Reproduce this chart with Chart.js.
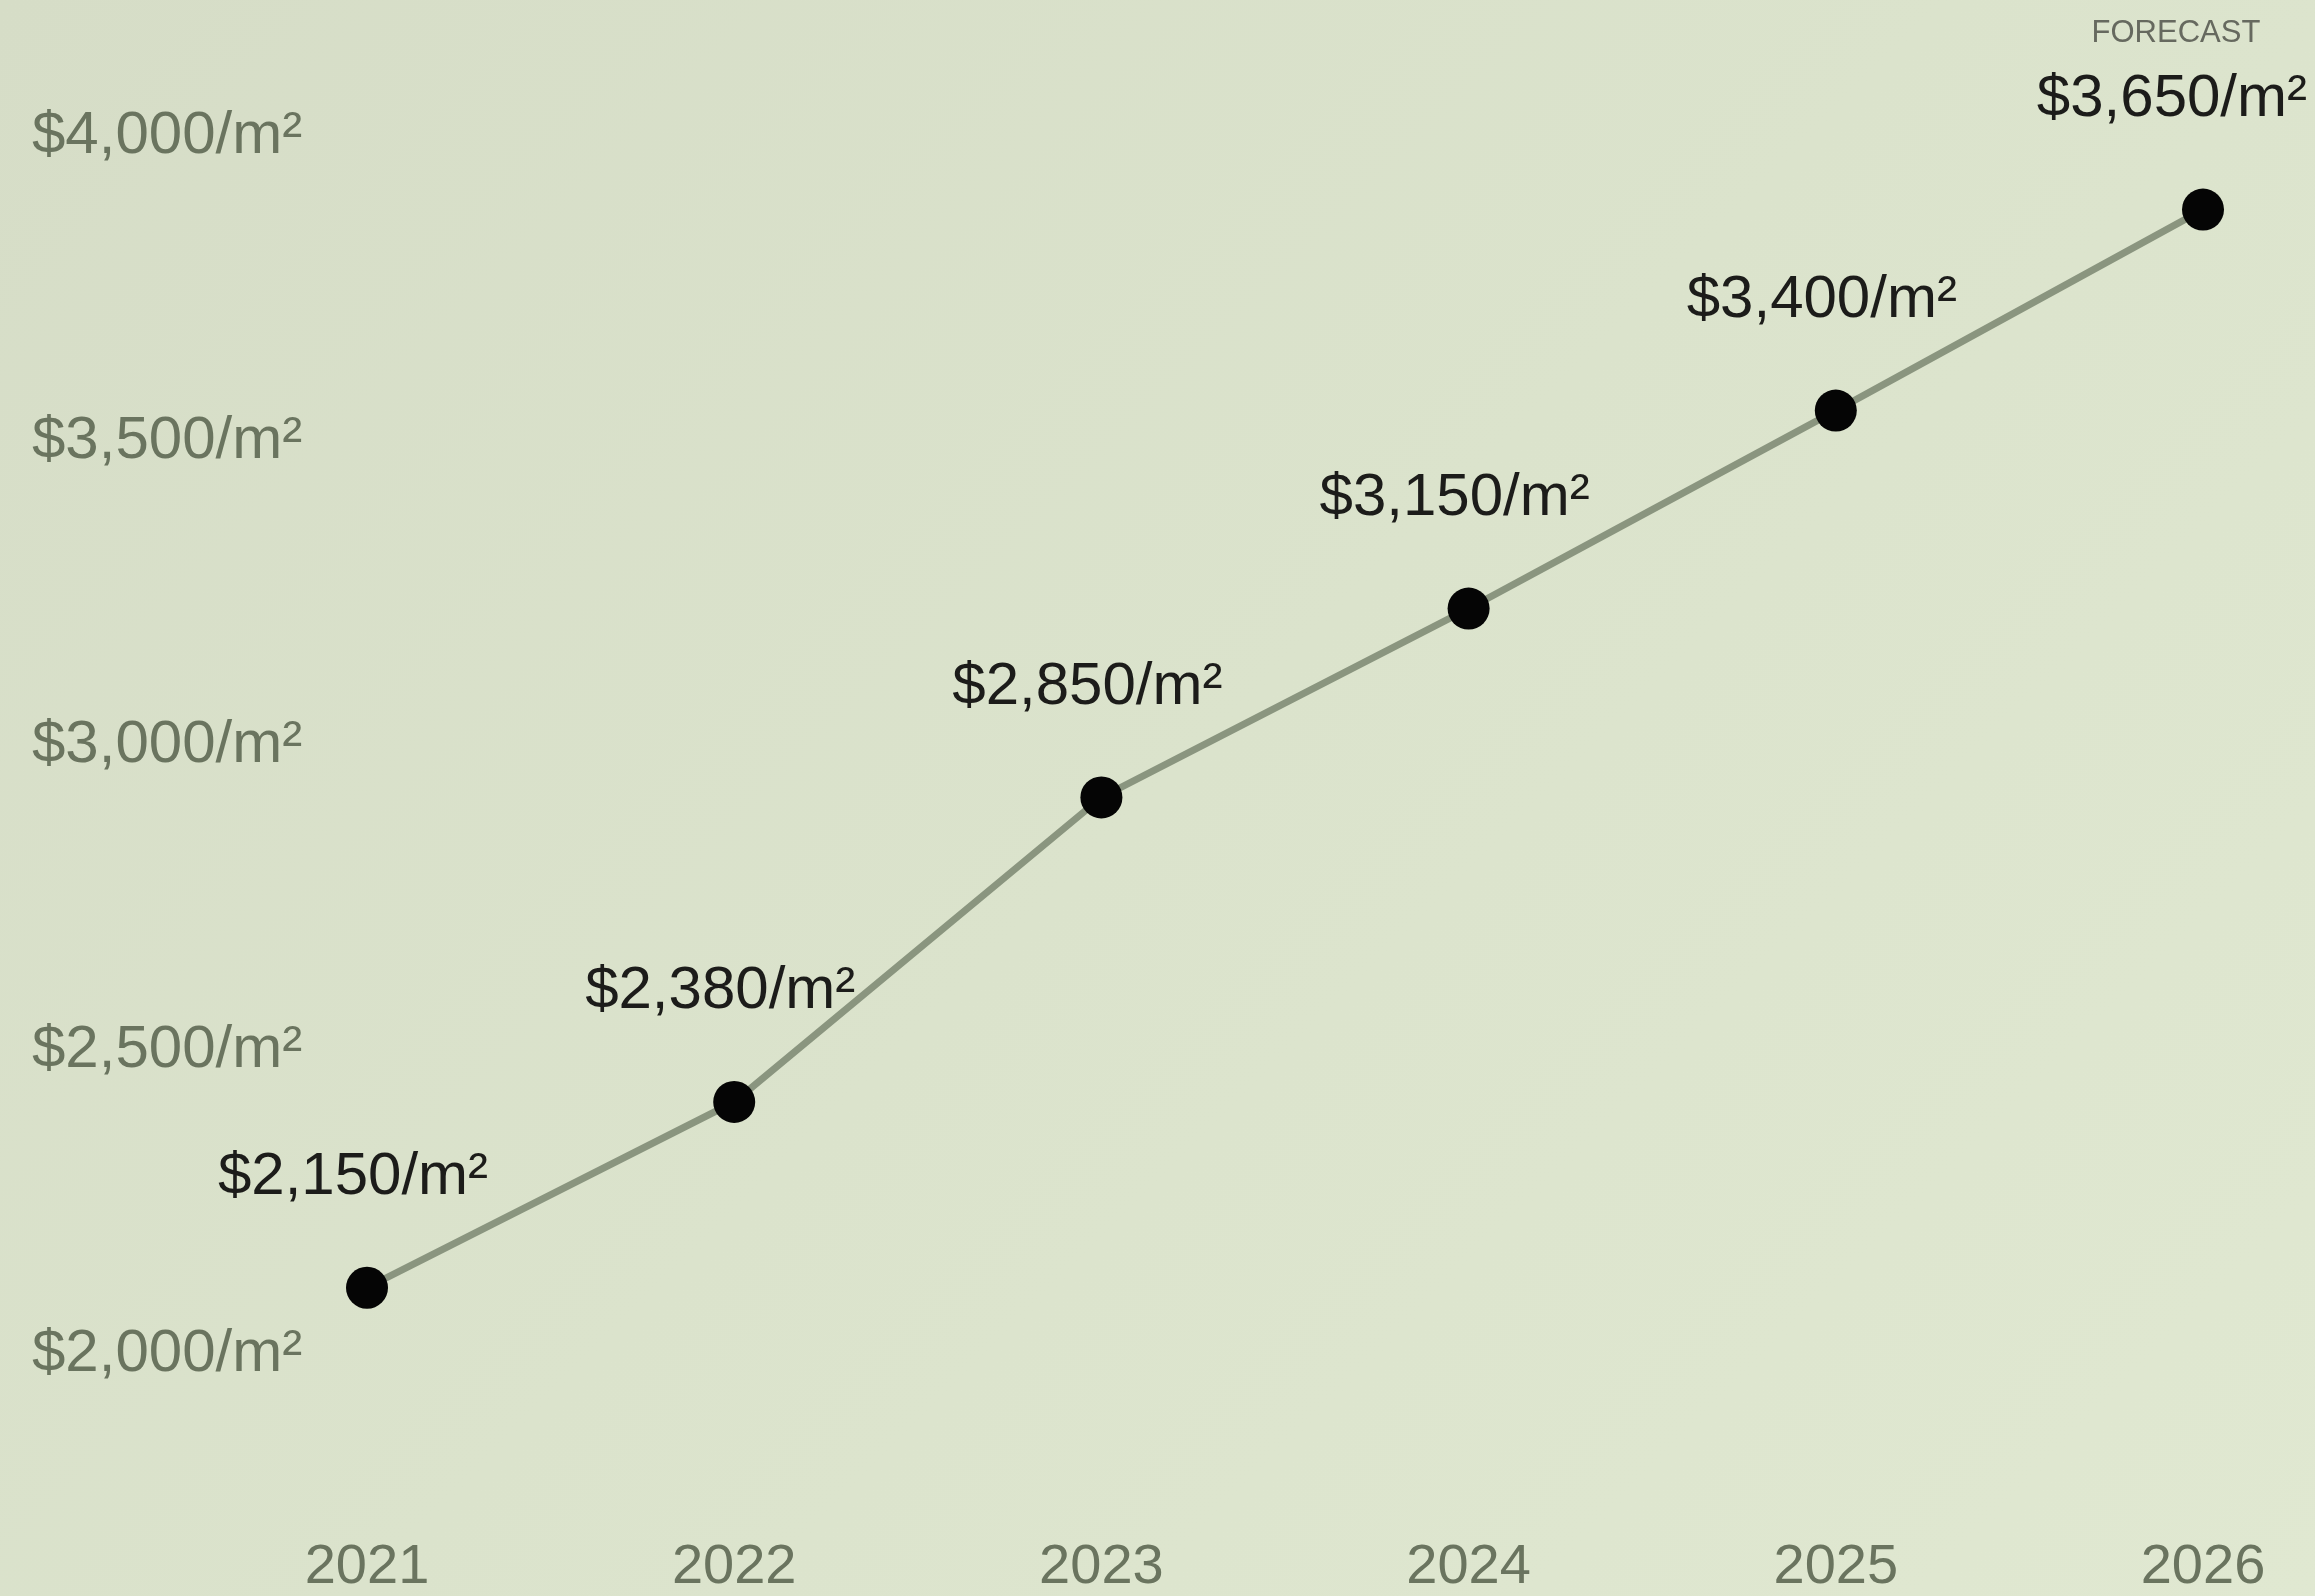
<!DOCTYPE html>
<html>
<head>
<meta charset="utf-8">
<script src="https://cdn.jsdelivr.net/npm/chart.js@4/dist/chart.umd.min.js"></script>
<style>
  html, body { margin: 0; padding: 0; }
  body {
    width: 2315px;
    height: 1596px;
    background: linear-gradient(135deg, #d6ddc7 0%, #dbe3cc 50%, #e0e8d1 100%);
    overflow: hidden;
  }
  .wrap { position: relative; width: 2315px; height: 1596px; }
</style>
</head>
<body>
<div class="wrap"><canvas id="priceChart" width="2315" height="1596"></canvas></div>
<script>
// years on the x axis
const years = ["2021", "2022", "2023", "2024", "2025", "2026"];
// price per m² as plotted against the axis
const prices = [2110, 2415, 2915, 3225, 3550, 3880];
// the figures printed above each point
const priceLabels = ["$2,150/m²", "$2,380/m²", "$2,850/m²", "$3,150/m²", "$3,400/m²", "$3,650/m²"];
// y axis ticks
const yTicks = [2000, 2500, 3000, 3500, 4000];
const forecastYear = "2026";

const tickColor = "#6a745f";
const fontFamily = "'Liberation Sans', Arial, sans-serif";

const fmtTick = (v) => "$" + v.toLocaleString("en-US") + "/m²";

// draws the value labels and the FORECAST tag above the points
const pointLabels = {
  id: "pointLabels",
  afterDatasetsDraw(chart) {
    const ctx = chart.ctx;
    const meta = chart.getDatasetMeta(0);
    ctx.save();
    ctx.textBaseline = "middle";
    ctx.textAlign = "center";
    meta.data.forEach((pt, i) => {
      ctx.font = "60px " + fontFamily;
      ctx.fillStyle = "#1c1c1a";
      const w = ctx.measureText(priceLabels[i]).width;
      let x = pt.x - 14;
      x = Math.min(x, chart.width - 8 - w / 2);
      const y = pt.y - 110;
      ctx.fillText(priceLabels[i], x, y);
      if (years[i] === forecastYear) {
        ctx.font = "31px " + fontFamily;
        ctx.fillStyle = "#66695f";
        ctx.fillText("FORECAST", x + 4, y - 66);
      }
    });
    ctx.restore();
  }
};

new Chart(document.getElementById("priceChart"), {
  type: "line",
  data: {
    labels: years,
    datasets: [
      {
        data: prices,
        borderColor: "#8a957f",
        borderWidth: 7,
        pointRadius: 21,
        pointHoverRadius: 21,
        pointBackgroundColor: "#050505",
        pointBorderWidth: 0,
        tension: 0,
        clip: false,
      },
    ],
  },
  options: {
    responsive: false,
    animation: false,
    events: [],
    layout: { padding: { left: 32, right: 112, top: 16, bottom: 0 } },
    plugins: {
      legend: { display: false },
      tooltip: { enabled: false },
    },
    scales: {
      x: {
        offset: false,
        grid: { display: false },
        border: { display: false },
        ticks: {
          color: tickColor,
          font: { family: fontFamily, size: 56, lineHeight: 1 },
          padding: 0,
          maxRotation: 0,
        },
      },
      y: {
        min: 1709,
        max: 4160,
        grid: { display: false },
        border: { display: false },
        afterBuildTicks: (scale) => {
          scale.ticks = yTicks.map((v) => ({ value: v }));
        },
        afterFit: (scale) => {
          scale.width = 335;
        },
        ticks: {
          color: tickColor,
          crossAlign: "far",
          font: { family: fontFamily, size: 60 },
          callback: (v) => fmtTick(v),
        },
      },
    },
  },
  plugins: [pointLabels],
});
</script>
</body>
</html>
